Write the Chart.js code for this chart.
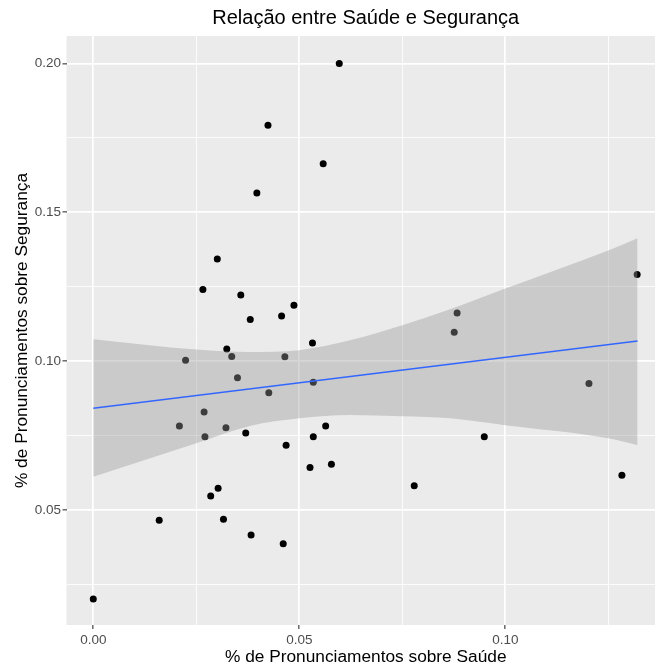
<!DOCTYPE html>
<html>
<head>
<meta charset="utf-8">
<script src="https://cdn.jsdelivr.net/npm/chart.js@4.4.1/dist/chart.umd.min.js"></script>
<style>
  html, body { margin: 0; padding: 0; background: #ffffff; overflow: hidden; width: 655px; height: 672px; }
  #wrap { position: relative; width: 680px; height: 672px; }
</style>
</head>
<body>
<div id="wrap"><canvas id="chart" width="680" height="672"></canvas></div>
<script>
// Share of speeches on health (x) and on security (y), one point per speaker
const saudeX = [
  0.0000, 0.0597, 0.0424, 0.0558, 0.0397, 0.0301, 0.0266, 0.0358, 0.0487, 0.0457,
  0.0381, 0.0532, 0.0324, 0.0224, 0.0336, 0.0465, 0.0350, 0.0534, 0.0426, 0.0269,
  0.0209, 0.0271, 0.0322, 0.0370, 0.0468, 0.0564, 0.0534, 0.0526, 0.0578, 0.0303,
  0.0285, 0.0160, 0.0316, 0.0383, 0.0461, 0.1320, 0.0883, 0.0876, 0.1203, 0.0949,
  0.0779, 0.1283
];
const segurancaY = [
  0.0201, 0.2000, 0.1792, 0.1663, 0.1565, 0.1343, 0.1241, 0.1222, 0.1188, 0.1152,
  0.1140, 0.1061, 0.1041, 0.1003, 0.1016, 0.1015, 0.0944, 0.0929, 0.0894, 0.0829,
  0.0782, 0.0746, 0.0776, 0.0759, 0.0718, 0.0782, 0.0746, 0.0643, 0.0654, 0.0573,
  0.0547, 0.0466, 0.0469, 0.0416, 0.0387, 0.1291, 0.1162, 0.1097, 0.0925, 0.0746,
  0.0582, 0.0617
];

// Linear trend and its confidence band
const fitX = [0, 0.1321];
const fitY = [0.0842, 0.1068];
const bandX     = [0.0000, 0.0250, 0.0380, 0.0500, 0.0623, 0.0750, 0.0866, 0.1000, 0.1250, 0.1321];
const bandUpper = [0.1074, 0.1039, 0.1031, 0.1037, 0.1070, 0.1121, 0.1174, 0.1244, 0.1372, 0.1413];
const bandLower = [0.0612, 0.0724, 0.0782, 0.0808, 0.0819, 0.0815, 0.0808, 0.0785, 0.0741, 0.0718];

// Axis ticks: labelled majors with unlabelled minors in between
const xTicks = [0, 0.025, 0.05, 0.075, 0.10, 0.125];
const xTickLabels = ['0.00', '', '0.05', '', '0.10', ''];
const yTicks = [0.025, 0.05, 0.075, 0.10, 0.125, 0.15, 0.175, 0.20];
const yTickLabels = ['', '0.05', '', '0.10', '', '0.15', '', '0.20'];

const FONT = '"Liberation Sans", Arial, Helvetica, sans-serif';
Chart.defaults.font.family = FONT;

const toXY = (xs, ys) => xs.map((x, i) => ({ x: x, y: ys[i] }));

// Grey plotting panel behind the grid
const panelBackground = {
  id: 'panelBackground',
  beforeDraw(chart) {
    const { ctx, chartArea: a } = chart;
    ctx.save();
    ctx.fillStyle = '#EBEBEB';
    ctx.fillRect(a.left, a.top, a.right - a.left, a.bottom - a.top);
    ctx.restore();
  }
};

function gridStyle(labels) {
  return {
    color: '#FFFFFF',
    lineWidth: (c) => (labels[c.index] ? 1.7 : 0.85),
    drawTicks: true,
    tickLength: 4,
    tickWidth: 1.1,
    tickColor: (c) => (labels[c.index] ? '#333333' : 'rgba(0,0,0,0)')
  };
}

new Chart(document.getElementById('chart'), {
  type: 'scatter',
  data: {
    datasets: [
      {
        type: 'line',
        label: 'Tendência',
        data: toXY(fitX, fitY),
        borderColor: '#3366FF',
        borderWidth: 1.5,
        pointRadius: 0,
        fill: false,
        order: 0
      },
      {
        type: 'line',
        label: 'Limite superior',
        data: toXY(bandX, bandUpper),
        borderWidth: 0,
        borderColor: 'rgba(0,0,0,0)',
        pointRadius: 0,
        cubicInterpolationMode: 'monotone',
        fill: '+1',
        backgroundColor: 'rgba(153,153,153,0.4)',
        order: 1
      },
      {
        type: 'line',
        label: 'Limite inferior',
        data: toXY(bandX, bandLower),
        borderWidth: 0,
        borderColor: 'rgba(0,0,0,0)',
        pointRadius: 0,
        cubicInterpolationMode: 'monotone',
        fill: false,
        order: 1
      },
      {
        type: 'scatter',
        label: 'Parlamentares',
        data: toXY(saudeX, segurancaY),
        backgroundColor: '#000000',
        borderWidth: 0,
        pointRadius: 3.5,
        pointHoverRadius: 3.5,
        order: 2
      }
    ]
  },
  options: {
    responsive: false,
    animation: false,
    events: [],
    layout: { padding: { left: 0, right: 15, top: 0, bottom: 0 } },
    plugins: {
      legend: { display: false },
      tooltip: { enabled: false },
      title: {
        display: true,
        text: 'Relação entre Saúde e Segurança',
        color: '#000000',
        fullSize: false,
        font: { family: FONT, size: 20, weight: 'normal' },
        padding: { top: 6, bottom: 6 }
      }
    },
    scales: {
      x: {
        type: 'linear',
        min: -0.0065,
        max: 0.13876,
        afterBuildTicks: (s) => { s.ticks = xTicks.map((v) => ({ value: v })); },
        afterFit: (s) => { s.height = 47; },
        ticks: {
          autoSkip: false,
          maxRotation: 0,
          padding: 3,
          color: '#4D4D4D',
          font: { family: FONT, size: 13.5 },
          callback: (v, i) => xTickLabels[i]
        },
        grid: gridStyle(xTickLabels),
        border: { display: false },
        title: {
          display: true,
          text: '% de Pronunciamentos sobre Saúde',
          color: '#000000',
          font: { family: FONT, size: 17.3 },
          padding: { top: 0, bottom: 4.5 }
        }
      },
      y: {
        type: 'linear',
        min: 0.0114,
        max: 0.2092,
        afterBuildTicks: (s) => { s.ticks = yTicks.map((v) => ({ value: v })); },
        afterFit: (s) => { s.width = 66.5; },
        ticks: {
          autoSkip: false,
          padding: 1.5,
          color: '#4D4D4D',
          font: { family: FONT, size: 13.5 },
          callback: (v, i) => yTickLabels[i]
        },
        grid: gridStyle(yTickLabels),
        border: { display: false },
        title: {
          display: true,
          text: '% de Pronunciamentos sobre Segurança',
          color: '#000000',
          font: { family: FONT, size: 17.3 },
          padding: { top: 11.6, bottom: 0 }
        }
      }
    }
  },
  plugins: [panelBackground]
});
</script>
</body>
</html>
